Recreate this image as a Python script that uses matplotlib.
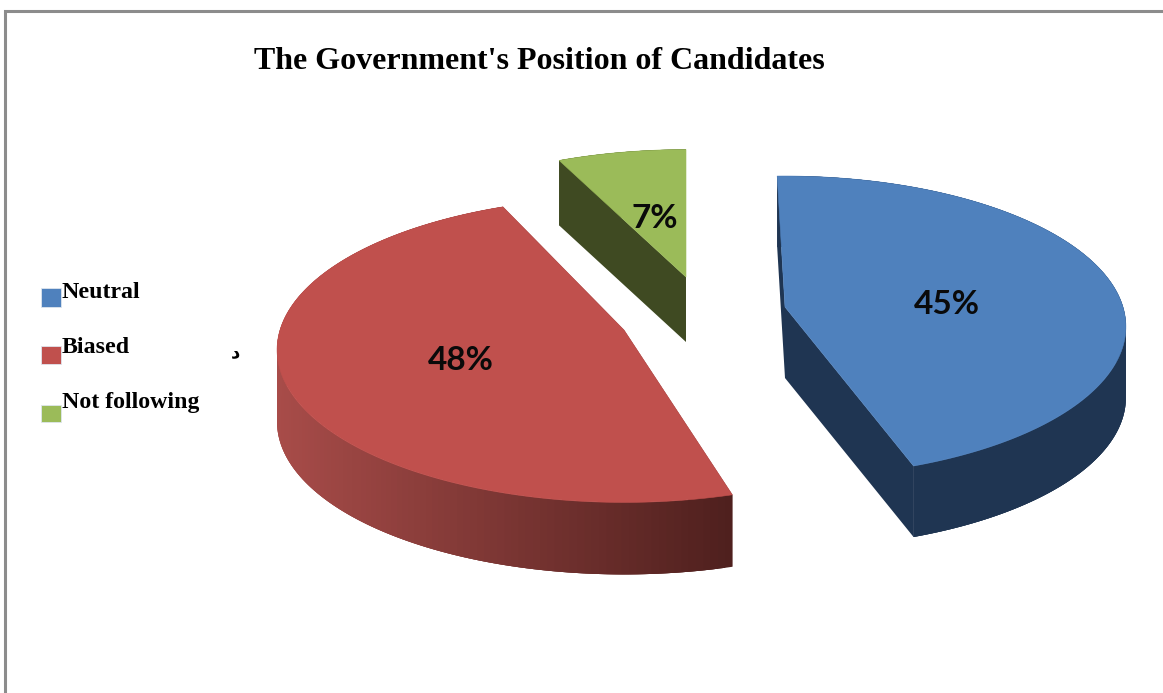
import numpy as np
import matplotlib
matplotlib.use("Agg")
import matplotlib.pyplot as plt
from matplotlib.patches import Polygon, Rectangle

categories = ["Neutral", "Biased", "Not following"]
shares = [45, 48, 7]
title = "The Government's Position of Candidates"

top_colors = ["#4f81bd", "#c0504d", "#9bbb59"]
wall_colors = ["#1f3552", "#4f201e", "#3f4a22"]
rim_left = ["#1f3552", "#a84c49", "#3f4a22"]
rim_right = ["#1f3552", "#4f201e", "#3f4a22"]

# where each exploded slice has its tip, and how big it is drawn
tips = [(785, 307), (624, 330), (686, 277)]
depths = [71, 72, 65]
tilts = [-1.5, 2, 0]
radius_x = [338, 344, 333]
radius_y = [148, 150, 144]
persp = 0.13

label_pos = [(947, 304), (461, 360), (655, 218)]
legend_y = [298, 353, 408]
legend_boxes = [(288, 19), (346, 18), (405, 17)]


def project(tip, rx, ry, angle):
    # flat pie angle (deg clockwise from the top) to a point on the tilted disc
    t = np.radians(angle)
    u, v = np.sin(t), np.cos(t)
    w = 1 + persp * v
    return tip[0] + rx * u / w, tip[1] - ry * v / w


def mix(c1, c2, f):
    a = np.array(matplotlib.colors.to_rgb(c1))
    b = np.array(matplotlib.colors.to_rgb(c2))
    return tuple(a + (b - a) * f)


fig = plt.figure(figsize=(11.63, 6.93), dpi=100)
ax = fig.add_axes([0, 0, 1, 1])
ax.set_xlim(0, 1163)
ax.set_ylim(693, 0)
ax.axis("off")

# grey frame, only top and left are in view
ax.plot([5, 5, 1163], [693, 11, 11], color="#8c8c8c", lw=2.2, solid_joinstyle="miter")

start = 0
for i, share in enumerate(shares):
    tip, d = tips[i], depths[i]
    a0 = start + tilts[i]
    a1 = start + share * 3.6 + tilts[i]
    start += share * 3.6
    angles = np.linspace(a0, a1, 160)
    xs, ys = project(tip, radius_x[i], radius_y[i], angles)

    # cut faces
    for k in (0, -1):
        wall = [tip, (xs[k], ys[k]), (xs[k], ys[k] + d), (tip[0], tip[1] + d)]
        ax.add_patch(Polygon(wall, closed=True, fc=wall_colors[i], ec="none", zorder=2))

    # outer wall in overlapping strips so the shading can run left to right
    for j in range(len(angles) - 1):
        f = (xs[j] - xs.min()) / (xs.max() - xs.min())
        c = mix(rim_left[i], rim_right[i], f)
        e = min(j + 3, len(angles) - 1)
        strip = list(zip(xs[j:e + 1], ys[j:e + 1])) + list(zip(xs[j:e + 1][::-1], ys[j:e + 1][::-1] + d))
        ax.add_patch(Polygon(strip, closed=True, fc=c, ec="none", zorder=3))

    outline = [tip] + list(zip(xs, ys))
    ax.add_patch(Polygon(outline, closed=True, fc=top_colors[i], ec=top_colors[i], lw=0.4, zorder=4))

    ax.text(label_pos[i][0], label_pos[i][1], f"{share}%", ha="center", va="center",
            family="Lato", fontsize=24, fontweight="bold", color="#0a0a0a", zorder=5)

ax.text(539, 61.5, title, ha="center", va="center", family="Liberation Serif",
        fontsize=23, fontweight="bold", color="black")

# legend
for i, name in enumerate(categories):
    top, h = legend_boxes[i]
    ax.add_patch(Rectangle((41, top), 20, h, fc=top_colors[i], ec="#dfe6ee", lw=0.6))
    ax.text(62, legend_y[i], name, ha="left", va="baseline", family="Liberation Serif",
            fontsize=17.2, fontweight="bold", color="black")

# stray mark left of the pie
ax.text(235, 352, "د", ha="center", va="center", family="DejaVu Sans",
        fontsize=13, fontweight="bold", color="black")

fig.savefig("out.png", dpi=100, facecolor="white")
